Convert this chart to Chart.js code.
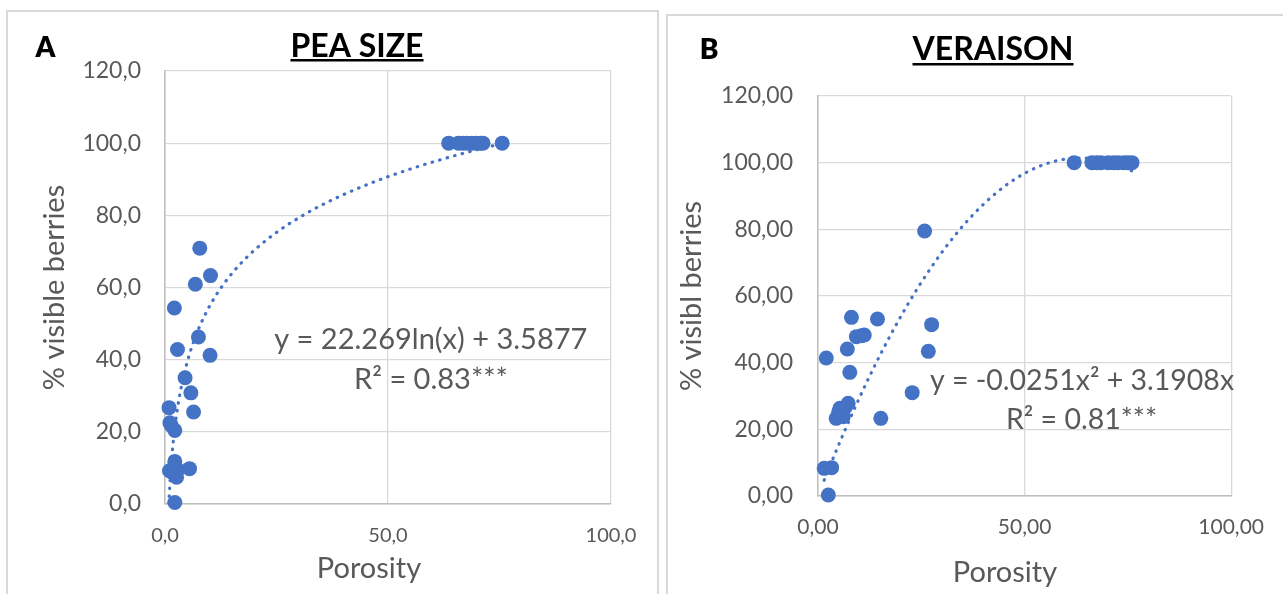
<!DOCTYPE html>
<html><head><meta charset="utf-8">
<script src="https://cdn.jsdelivr.net/npm/chart.js@4"></script>
<style>
html,body{margin:0;padding:0;background:#fff;width:1283px;height:594px;overflow:hidden;position:relative;}
.panel{position:absolute;border:2px solid #d9d9d9;}
#pa{left:6px;top:10px;width:649px;height:600px;}
#pb{left:666px;top:14px;width:617px;height:600px;}
canvas{display:block}
</style></head><body>
<div class="panel" id="pa"><canvas id="ca" width="649" height="582"></canvas></div>
<div class="panel" id="pb"><canvas id="cb" width="615" height="578"></canvas></div>
<script>
// ---- Panel A: PEA SIZE ----
const peaPorosity = [7.8, 10.2, 6.8, 2.1, 7.5, 2.8, 10.1, 4.5, 5.8, 6.4, 0.9, 1.1, 1.4, 2.2,
  2.2, 1.0, 2.6, 5.5, 2.9, 1.8, 2.2,
  63.6, 65.8, 66.8, 67.8, 68.8, 69.8, 70.8, 71.3, 75.6];
const peaVisible = [70.9, 63.3, 60.9, 54.3, 46.3, 42.8, 41.2, 35.0, 30.8, 25.5, 26.7, 22.5, 21.8, 20.4,
  11.8, 9.2, 7.4, 9.8, 9.5, 8.6, 0.4,
  100, 100, 100, 100, 100, 100, 100, 100, 100];
const peaTrend = {a: 22.269, b: 3.5877, xMin: 0.85, xMax: 75.6};
const peaEquation = ['y = 22.269ln(x) + 3.5877', 'R\u00b2 = 0.83***'];

// ---- Panel B: VERAISON ----
const verPorosity = [25.8, 8.1, 14.4, 27.5, 9.3, 10.5, 11.2, 7.1, 26.7, 2.0, 7.7, 22.8,
  5.3, 7.3, 6.5, 4.4, 6.1, 5.0, 15.2, 1.5, 3.3, 2.5,
  62.0, 66.3, 67.5, 68.5, 70.2, 71.5, 72.6, 74.0, 75.0, 76.0];
const verVisible = [79.5, 53.6, 53.1, 51.4, 47.8, 48.1, 48.3, 44.1, 43.4, 41.4, 37.1, 31.0,
  26.3, 27.8, 26.5, 23.3, 23.8, 25.0, 23.3, 8.3, 8.5, 0.3,
  100, 100, 100, 100, 100, 100, 100, 100, 100, 100];
const verTrend = {a: -0.0251, b: 3.1908, xMin: 1.5, xMax: 76.0};
const verEquation = ['y = -0.0251x\u00b2 + 3.1908x', 'R\u00b2 = 0.81***'];

const xTicks = [0, 50, 100];
const yTicks = [0, 20, 40, 60, 80, 100, 120];

const BLUE = '#4472C4', GREY = '#595959';

function logCurve(t){ const pts=[]; const n=120; for(let i=0;i<=n;i++){ const x=t.xMin*Math.pow(t.xMax/t.xMin,i/n); pts.push({x, y:t.a*Math.log(x)+t.b}); } return pts; }
function polyCurve(t){ const pts=[]; const n=120; for(let i=0;i<=n;i++){ const x=t.xMin+(t.xMax-t.xMin)*i/n; pts.push({x, y:t.a*x*x+t.b*x}); } return pts; }

const textPlugin = {id:'txt', afterDraw(chart, args, opts){
  const ctx = chart.ctx; ctx.save();
  for (const t of opts.items){
    ctx.font = t.font; ctx.fillStyle = t.color; ctx.textAlign = 'center'; ctx.textBaseline = 'alphabetic';
    ctx.fillText(t.text, t.x, t.y);
    if (t.underline){ const w = ctx.measureText(t.text).width; ctx.fillRect(t.x - w/2, t.uy, w, t.uh); }
  }
  ctx.restore();
}};

function makeChart(id, xs, ys, curve, cfg){
  const pts = xs.map((x,i)=>({x, y: ys[i]}));
  return new Chart(document.getElementById(id), {
    type: 'scatter',
    data: {datasets: [
      {data: pts, pointRadius: 7.5, pointHoverRadius: 7.5, backgroundColor: BLUE, borderWidth: 0, clip: false},
      {data: curve, showLine: true, pointRadius: 0, borderColor: BLUE, borderWidth: 3.2, borderDash: [0.5, 7.3], borderCapStyle: 'round', fill: false, tension: 0}
    ]},
    plugins: [textPlugin],
    options: {
      responsive: false, animation: false,
      layout: {padding: {left: 0, top: cfg.top, right: cfg.right, bottom: 0}},
      plugins: {legend: {display: false}, tooltip: {enabled: false}, txt: {items: cfg.texts}},
      scales: {
        x: {type: 'linear', min: 0, max: 100,
          afterBuildTicks: s => { s.ticks = xTicks.map(v => ({value: v})); },
          ticks: {padding: cfg.xPad, color: GREY, font: {family: 'Lato', size: cfg.xFont}, callback: v => v.toFixed(cfg.dec).replace('.', ',')},
          grid: {color: '#d9d9d9', lineWidth: 1.3, drawTicks: false},
          border: {color: '#bfbfbf', width: 1.5},
          afterFit: s => { s.height = cfg.xH; }},
        y: {min: 0, max: 120,
          afterBuildTicks: s => { s.ticks = yTicks.map(v => ({value: v})); },
          ticks: {padding: cfg.yPad, color: GREY, font: {family: 'Lato', size: 23}, callback: v => v.toFixed(cfg.dec).replace('.', ',')},
          grid: {color: '#d9d9d9', lineWidth: 1.3, drawTicks: false},
          border: {color: '#bfbfbf', width: 1.5},
          title: {display: true, text: cfg.yTitle, color: GREY, font: {family: 'Lato', size: 29}, padding: {top: cfg.yTitlePad, bottom: 0}},
          afterFit: s => { s.width = cfg.yW; }}
      }
    }
  });
}

makeChart('ca', peaPorosity, peaVisible, logCurve(peaTrend), {
  top: 59, right: 46, xH: 90, yW: 157, xPad: 20, yPad: 24, xFont: 20, dec: 1,
  yTitle: '% visible berries', yTitlePad: 29,
  texts: [
    {text: 'A', x: 37.5, y: 45, font: '800 28px Lato', color: '#000'},
    {text: 'PEA SIZE', x: 349, y: 45, font: '700 32px Lato', color: '#000', underline: true, uy: 47, uh: 2.5},
    {text: 'Porosity', x: 361, y: 566, font: '29px Lato', color: GREY},
    {text: peaEquation[0], x: 422.8, y: 336.5, font: '29px Lato', color: GREY},
    {text: peaEquation[1], x: 423, y: 376.5, font: '29px Lato', color: GREY}
  ]
});

makeChart('cb', verPorosity, verVisible, polyCurve(verTrend), {
  top: 80, right: 48, xH: 98, yW: 150, xPad: 19, yPad: 25, xFont: 21, dec: 2,
  yTitle: '% visibl berries', yTitlePad: 6,
  texts: [
    {text: 'B', x: 41, y: 43, font: '800 28px Lato', color: '#000'},
    {text: 'VERAISON', x: 325, y: 43.5, font: '700 32px Lato', color: '#000', underline: true, uy: 47, uh: 2.5},
    {text: 'Porosity', x: 337, y: 565.5, font: '29px Lato', color: GREY},
    {text: verEquation[0], x: 414, y: 373.5, font: '28.5px Lato', color: GREY},
    {text: verEquation[1], x: 413.5, y: 412.5, font: '28.5px Lato', color: GREY}
  ]
});
</script>
</body></html>
